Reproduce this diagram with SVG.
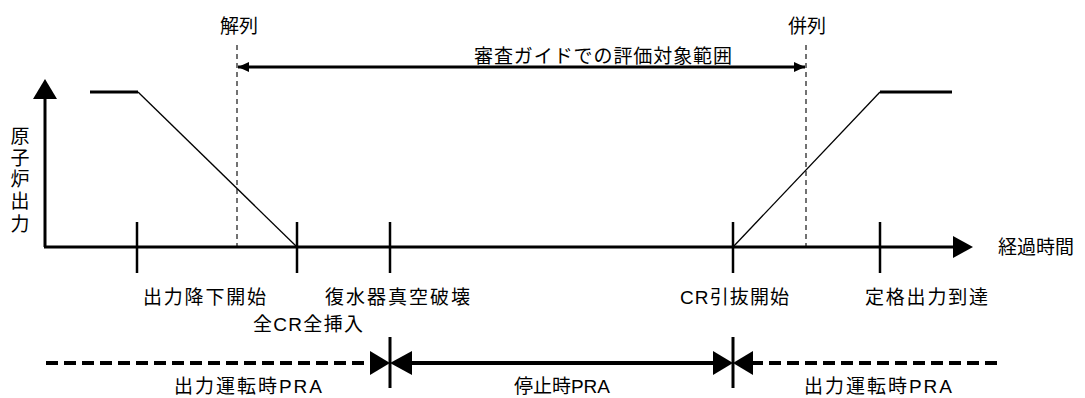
<svg xmlns="http://www.w3.org/2000/svg" width="1085" height="398" viewBox="0 0 1085 398">
<style>
text{font-family:"Liberation Sans","Noto Sans CJK JP",sans-serif;font-size:19px;fill:#000}
.ax{stroke:#000;stroke-width:3;fill:none}
.thin{stroke:#000;stroke-width:1.3;fill:none}
.thick{stroke:#000;stroke-width:3;fill:none}
.tick{stroke:#000;stroke-width:2.5}
.vd{stroke:#444;stroke-width:1.5;stroke-dasharray:5 4;fill:none}
.tl{stroke:#000;stroke-width:4;fill:none}
.tld{stroke:#000;stroke-width:4;stroke-dasharray:12 6;fill:none}
.hd{fill:#000}
</style>
<defs>
<marker id="ah" markerUnits="userSpaceOnUse" markerWidth="12" markerHeight="12" viewBox="0 0 12 12" refX="11" refY="6" orient="auto-start-reverse">
<path d="M0,1 L11,6 L0,11 Z" fill="#000"/>
</marker>
</defs>
<g id="connectors">
<line class="vd" x1="237" y1="45" x2="237" y2="247"/>
<line class="vd" x1="806" y1="45" x2="806" y2="247"/>
<line x1="238" y1="67" x2="805" y2="67" stroke="#000" stroke-width="3" marker-start="url(#ah)" marker-end="url(#ah)"/>
</g>
<g id="y-axis">
<line class="ax" x1="45" y1="247" x2="45" y2="98"/>
<polygon class="hd" points="45,79 33,99 57,99"/>
<text x="20" y="143" text-anchor="middle">原</text>
<text x="20" y="165" text-anchor="middle">子</text>
<text x="20" y="186" text-anchor="middle">炉</text>
<text x="20" y="208" text-anchor="middle">出</text>
<text x="20" y="231" text-anchor="middle">力</text>
</g>
<g id="x-axis">
<line class="ax" x1="44" y1="247" x2="955" y2="247"/>
<polygon class="hd" points="973,247 953,236 953,258"/>
<text x="998" y="254" textLength="76" lengthAdjust="spacing">経過時間</text>
</g>
<g id="power-curve">
<line class="thick" x1="90" y1="92" x2="138" y2="92"/>
<line class="thin" x1="138" y1="92" x2="297" y2="247"/>
<line class="thin" x1="733" y1="247" x2="880" y2="92"/>
<line class="thick" x1="880" y1="92" x2="952" y2="92"/>
</g>
<g id="ticks">
<line class="tick" x1="137" y1="222" x2="137" y2="273"/>
<line class="tick" x1="297" y1="222" x2="297" y2="273"/>
<line class="tick" x1="390" y1="222" x2="390" y2="273"/>
<line class="tick" x1="733" y1="222" x2="733" y2="273"/>
<line class="tick" x1="880" y1="222" x2="880" y2="273"/>
</g>
<g id="top-labels">
<text x="220" y="33" textLength="38" lengthAdjust="spacing">解列</text>
<text x="788" y="33" textLength="38" lengthAdjust="spacing">併列</text>
<text x="474" y="63" textLength="258" lengthAdjust="spacing">審査ガイドでの評価対象範囲</text>
</g>
<g id="event-labels">
<text x="143" y="304" textLength="123" lengthAdjust="spacing">出力降下開始</text>
<text x="253" y="331" textLength="110" lengthAdjust="spacing">全CR全挿入</text>
<text x="325" y="304" textLength="145" lengthAdjust="spacing">復水器真空破壊</text>
<text x="680" y="304" textLength="109" lengthAdjust="spacing">CR引抜開始</text>
<text x="865" y="304" textLength="123" lengthAdjust="spacing">定格出力到達</text>
</g>
<g id="pra-timeline">
<line class="tld" x1="46" y1="363" x2="372" y2="363"/>
<line class="tl" x1="410" y1="363" x2="715" y2="363"/>
<line class="tld" x1="751" y1="363" x2="998" y2="363"/>
<polygon class="hd" points="370,351 370,375 390,363"/>
<polygon class="hd" points="412,351 412,375 390,363"/>
<line x1="390" y1="337" x2="390" y2="388" stroke="#000" stroke-width="3"/>
<polygon class="hd" points="713,351 713,375 733,363"/>
<polygon class="hd" points="753,351 753,375 733,363"/>
<line x1="733" y1="337" x2="733" y2="388" stroke="#000" stroke-width="3"/>
<text x="174" y="393" textLength="148" lengthAdjust="spacing">出力運転時PRA</text>
<text x="514" y="393" textLength="96" lengthAdjust="spacing">停止時PRA</text>
<text x="804" y="393" textLength="148" lengthAdjust="spacing">出力運転時PRA</text>
</g>
</svg>
